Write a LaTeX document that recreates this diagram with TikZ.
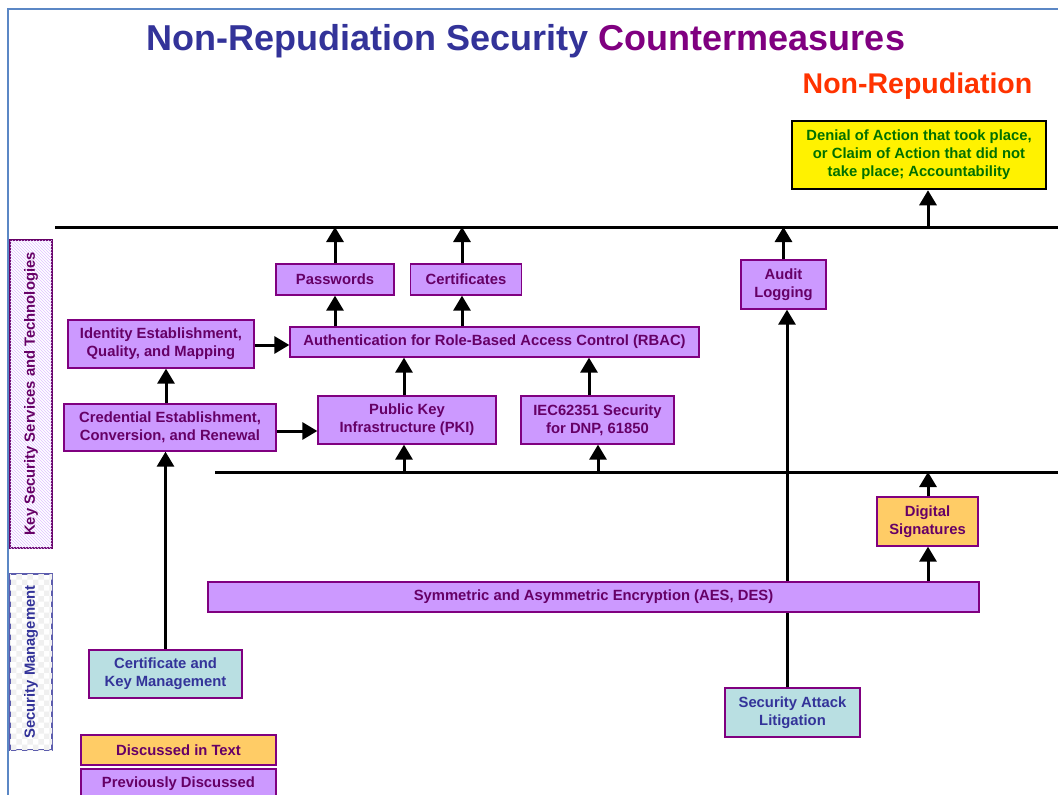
\documentclass[tikz,border=0pt]{standalone}
\usepackage{fontspec}
\setmainfont{Liberation Sans}
\usetikzlibrary{arrows.meta,calc,backgrounds,patterns}
\definecolor{ttlblue}{HTML}{333399}
\definecolor{ttlpurple}{HTML}{800080}
\definecolor{nrorange}{HTML}{FF3300}
\definecolor{boxpurple}{HTML}{CC99FF}
\definecolor{boxedge}{HTML}{800080}
\definecolor{txtpurple}{HTML}{660066}
\definecolor{boxorange}{HTML}{FFCC66}
\definecolor{boxcyan}{HTML}{B9DFE2}
\definecolor{txtgreen}{HTML}{007000}
\definecolor{frameblue}{HTML}{5B87C5}
\tikzset{
  every node/.style={font=\bfseries\fontsize{14.8}{18}\selectfont, align=center, inner sep=0pt},
  pbox/.style={draw=boxedge, line width=1.3pt, fill=boxpurple, text=txtpurple},
  obox/.style={draw=boxedge, line width=1.3pt, fill=boxorange, text=txtpurple},
  cbox/.style={draw=boxedge, line width=1.3pt, fill=boxcyan, text=ttlblue},
  ybox/.style={draw=black, line width=2.5pt, fill=yellow, text=txtgreen},
  arr/.style={line width=3pt, -{Triangle[length=15pt,width=17pt]}},
  busline/.style={line width=3pt},
}
\begin{document}
\begin{tikzpicture}[x=1pt,y=-1pt]
\useasboundingbox (0,0) rectangle (1058,795);
\clip (0,0) rectangle (1058,795);
% frame
\draw[frameblue, line width=1.5pt] (8,795) -- (8,9) -- (1058,9);
% title
\node[font=\bfseries\fontsize{36}{40}\selectfont, anchor=base] (title) at (526,50)
  {\textcolor{ttlblue}{Non-Repudiation Security} \textcolor{ttlpurple}{Countermeasures}};
\node[font=\bfseries\fontsize{28.5}{30}\selectfont, text=nrorange] (nr) at (917.5,86) {Non-Repudiation};
% side labels
\node[draw=txtpurple, line width=1.5pt, fill=white,
  postaction={pattern=north west lines, pattern color=boxpurple!60},
  minimum width=42pt, minimum height=308pt] (ksbox) at (31,394) {};
\node[rotate=90, text=txtpurple] (kslabel) at (ksbox.center) {Key Security Services and Technologies};
\node[draw=ttlblue!80, line width=1.5pt, fill=white,
  postaction={pattern=checkerboard, pattern color=gray!12},
  minimum width=42pt, minimum height=176pt] (smbox) at (31,662) {};
\node[rotate=90, text=ttlblue] (smlabel) at (smbox.center) {Security Management};
% boxes
\node[ybox, minimum width=254pt, minimum height=68pt] (den) at (919,155)
  {Denial of Action that took place,\\or Claim of Action that did not\\take place; Accountability};
\node[pbox, minimum width=118pt, minimum height=31pt] (pw) at (335,279.5) {Passwords};
\node[pbox, minimum width=111pt, minimum height=31pt] (cert) at (466,279.5) {Certificates};
\node[pbox, minimum width=85pt, minimum height=49pt] (aud) at (783.5,284.5) {Audit\\Logging};
\node[pbox, minimum width=186pt, minimum height=48pt] (idb) at (161,344) {Identity Establishment,\\Quality, and Mapping};
\node[pbox, minimum width=409pt, minimum height=30pt] (rbac) at (494.5,342) {Authentication for Role-Based Access Control (RBAC)};
\node[pbox, minimum width=212pt, minimum height=47pt] (cred) at (170,427.5) {Credential Establishment,\\Conversion, and Renewal};
\node[pbox, minimum width=178pt, minimum height=48pt] (pki) at (407,420) {Public Key\\Infrastructure (PKI)};
\node[pbox, minimum width=153pt, minimum height=48pt] (iec) at (597.5,420) {IEC62351 Security\\for DNP, 61850};
\node[obox, minimum width=101pt, minimum height=49pt] (ds) at (927.5,521.5) {Digital\\Signatures};
\node[cbox, minimum width=153pt, minimum height=48pt] (ck) at (165.5,674) {Certificate and\\Key Management};
\node[cbox, minimum width=135pt, minimum height=49pt] (lit) at (792.5,712.5) {Security Attack\\Litigation};
\node[obox, minimum width=195pt, minimum height=30pt] (leg1) at (178.5,750) {Discussed in Text};
\node[pbox, minimum width=195pt, minimum height=30pt] (leg2) at (178.5,784) {Previously Discussed};
% buses
\coordinate (ubL) at (55,227);
\coordinate (ubR) at (1058,227);
\coordinate (lbL) at (215,472);
\coordinate (lbR) at (1058,472);
\draw[busline] (ubL) -- (ubR);
\draw[busline] (lbL) -- (lbR);
% x positions
\coordinate (xden) at (928,0);
\coordinate (xlit) at (787,0);
\coordinate (xcred) at (166,0);
\coordinate (xcert) at (462,0);
\coordinate (xiec) at (589,0);
\coordinate (xiecb) at (598,0);
\coordinate (xpki) at (404,0);
% litigation line behind encryption box
\draw[arr] (xlit |- lit.north) -- (xlit |- aud.south);
\node[pbox, minimum width=771pt, minimum height=30pt] (enc) at (593.5,597) {Symmetric and Asymmetric Encryption (AES, DES)};
% arrows
\draw[arr] (pw.north) -- (pw.north |- ubL);
\draw[arr] (xcert |- cert.north) -- (xcert |- ubL);
\draw[arr] (aud.north) -- (aud.north |- ubL);
\draw[arr] (xden |- ubL) -- (xden |- den.south);
\draw[arr] (rbac.north -| pw) -- (pw.south);
\draw[arr] (xcert |- rbac.north) -- (xcert |- cert.south);
\draw[arr] (idb.east |- 0,345) -- (rbac.west |- 0,345);
\draw[arr] (xcred |- cred.north) -- (xcred |- idb.south);
\draw[arr] (cred.east |- 0,431) -- (pki.west |- 0,431);
\draw[arr] (xpki |- pki.north) -- (xpki |- rbac.south);
\draw[arr] (xiec |- iec.north) -- (xiec |- rbac.south);
\draw[arr] (xpki |- lbL) -- (xpki |- pki.south);
\draw[arr] (xiecb |- lbL) -- (xiecb |- iec.south);
\draw[arr] (ck.north) -- (ck.north |- cred.south);
\draw[arr] (xden |- enc.north) -- (xden |- ds.south);
\draw[arr] (xden |- ds.north) -- (xden |- lbL);
\end{tikzpicture}
\end{document}
